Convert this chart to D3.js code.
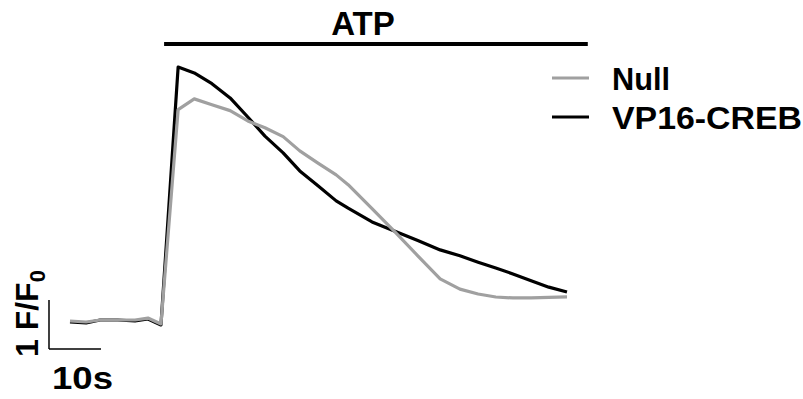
<!DOCTYPE html>
<html>
<head>
<meta charset="utf-8">
<script src="https://cdn.jsdelivr.net/npm/d3@7/dist/d3.min.js"></script>
<style>
  html, body { margin: 0; padding: 0; background: #fff; }
  svg { display: block; }
  text { font-family: "Liberation Sans", Arial, sans-serif; font-weight: bold; fill: #000; }
</style>
</head>
<body>
<svg id="chart" width="803" height="399"></svg>
<script>
// Sample times (s) shared by both traces
const time = [0, 3.1, 5.8, 9.2, 12.5, 15.0, 17.5, 20.8, 23.9, 27.3, 30.8, 34.2, 37.5, 41.0,
  44.2, 47.7, 51.2, 53.5, 58.1, 62.5, 66.9, 71.2, 75.0, 78.5, 81.9, 85.2, 88.7, 92.1, 95.6];

// Normalised fluorescence F/F0
const nullValues = [1.00, 0.98, 1.02, 1.02, 1.02, 1.06, 0.94, 5.31, 5.53, 5.41, 5.29, 5.08, 4.94, 4.76,
  4.47, 4.22, 3.98, 3.78, 3.29, 2.82, 2.33, 1.86, 1.65, 1.55, 1.49, 1.47, 1.47, 1.48, 1.49];
const crebValues = [0.98, 0.96, 1.02, 1.02, 1.00, 1.04, 0.92, 6.18, 6.06, 5.84, 5.55, 5.16, 4.77, 4.43,
  4.06, 3.76, 3.45, 3.30, 3.02, 2.83, 2.64, 2.45, 2.33, 2.20, 2.08, 1.96, 1.82, 1.69, 1.59];

const seriesNames = ["Null", "VP16-CREB"];
const seriesColors = ["#a0a0a0", "#000000"];

// ATP application window (s)
const atpWindow = [18.1, 99.6];

// Scale bar sizes
const scaleBarTime = 10;   // s
const scaleBarF = 1;       // F/F0

const svg = d3.select("#chart");

const x = d3.scaleLinear().domain([0, 95.6]).range([70, 567]);
const y = d3.scaleLinear().domain([1, 6.18]).range([321, 67]);

const line = d3.line()
  .x(d => x(d.t))
  .y(d => y(d.v));

const traces = [
  { name: seriesNames[1], color: seriesColors[1], values: crebValues },
  { name: seriesNames[0], color: seriesColors[0], values: nullValues }
];

svg.append("g").selectAll("path")
  .data(traces)
  .join("path")
  .attr("fill", "none")
  .attr("stroke", d => d.color)
  .attr("stroke-width", 3.2)
  .attr("stroke-linejoin", "round")
  .attr("d", d => line(d.values.map((v, i) => ({ t: time[i], v }))));

// ATP bar and label
svg.append("line")
  .attr("x1", x(atpWindow[0])).attr("x2", x(atpWindow[1]))
  .attr("y1", 44).attr("y2", 44)
  .attr("stroke", "#000").attr("stroke-width", 4);
svg.append("text")
  .attr("x", (x(atpWindow[0]) + x(atpWindow[1])) / 2 - 13)
  .attr("y", 35)
  .attr("text-anchor", "middle")
  .attr("font-size", 33)
  .text("ATP");

// Legend
const legend = svg.append("g");
const legendWidths = [58, 190];
[seriesNames[0], seriesNames[1]].forEach((name, i) => {
  const ly = 78 + i * 39;
  legend.append("line")
    .attr("x1", 552).attr("x2", 589)
    .attr("y1", ly).attr("y2", ly)
    .attr("stroke", seriesColors[i]).attr("stroke-width", 3);
  legend.append("text")
    .attr("x", 612).attr("y", ly + 12)
    .attr("font-size", 32)
    .attr("textLength", legendWidths[i])
    .attr("lengthAdjust", "spacingAndGlyphs")
    .text(name);
});

// Scale bar
const sbT0 = -4.04, sbF0 = 0.43;
const sb = svg.append("g").attr("stroke", "#000").attr("stroke-width", 1.5);
sb.append("line")
  .attr("x1", x(sbT0)).attr("x2", x(sbT0))
  .attr("y1", y(sbF0)).attr("y2", y(sbF0 + scaleBarF));
sb.append("line")
  .attr("x1", x(sbT0)).attr("x2", x(sbT0 + scaleBarTime))
  .attr("y1", y(sbF0)).attr("y2", y(sbF0));

svg.append("text")
  .attr("x", 52).attr("y", 389)
  .attr("font-size", 32)
  .attr("textLength", 61)
  .attr("lengthAdjust", "spacingAndGlyphs")
  .text(scaleBarTime + "s");

const yLabel = svg.append("text")
  .attr("transform", "translate(38,357) rotate(-90)")
  .attr("font-size", 32);
yLabel.append("tspan").text(scaleBarF + " F/F");
yLabel.append("tspan").attr("font-size", 22).attr("dy", 7).text("0");
</script>
</body>
</html>
